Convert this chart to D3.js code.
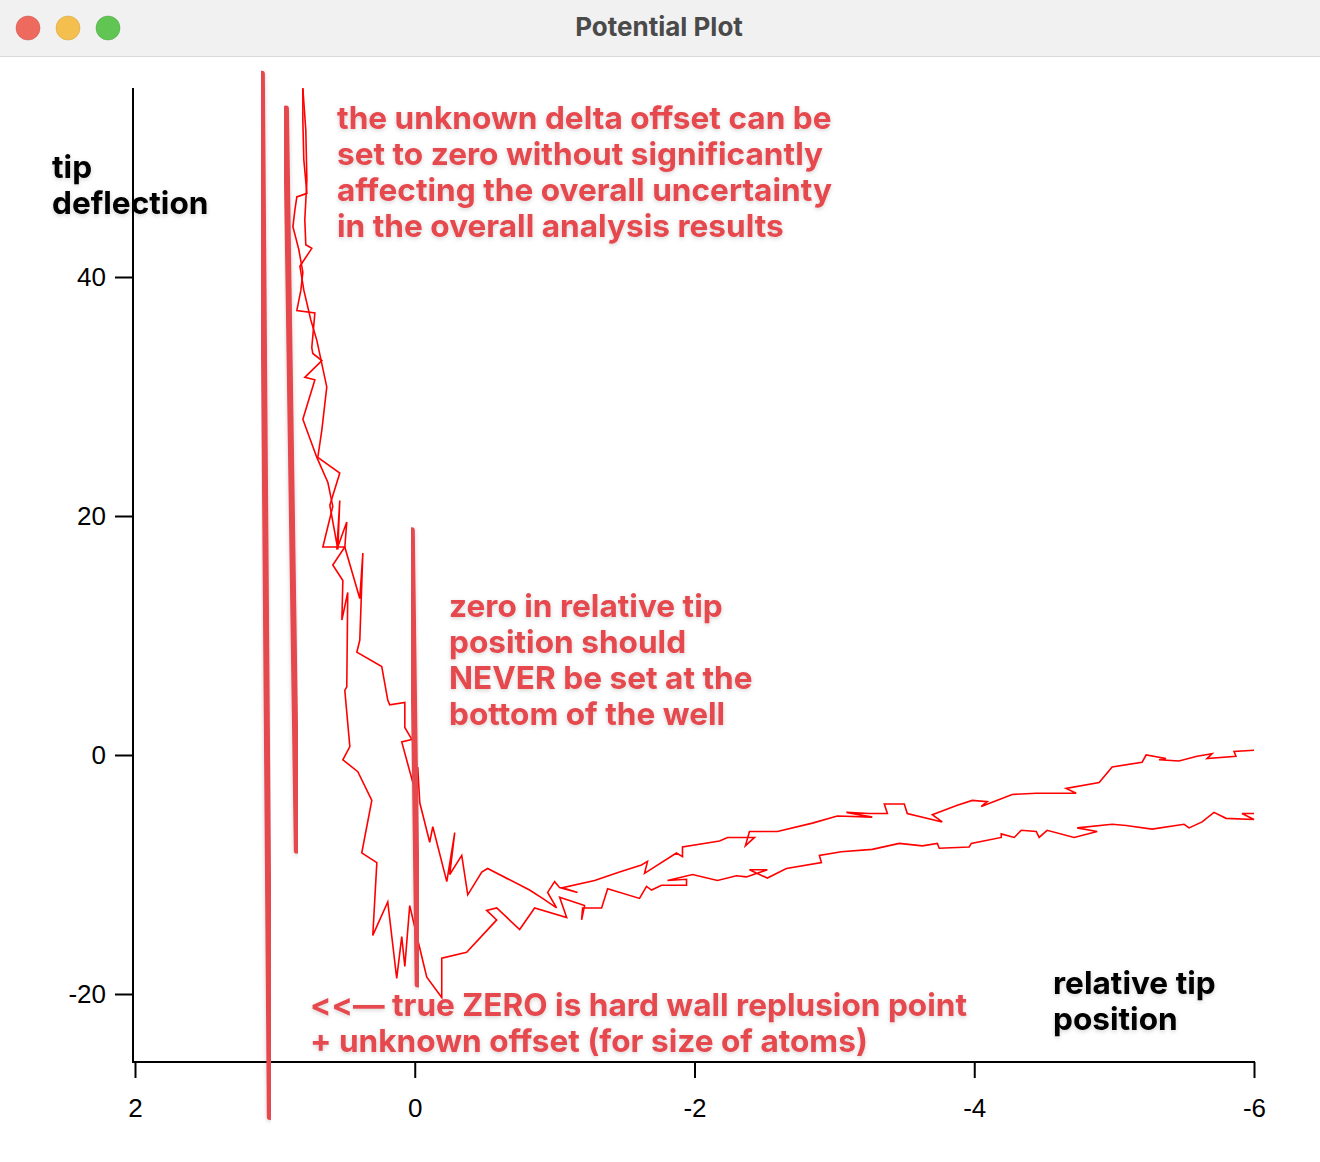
<!DOCTYPE html>
<html>
<head>
<meta charset="utf-8">
<title>Potential Plot</title>
<script src="https://cdn.jsdelivr.net/npm/d3@7"></script>
<style>
  html, body { margin: 0; padding: 0; background: #ffffff; }
  svg { display: block; }
  text { font-variant-ligatures: none; font-feature-settings: "calt" 0, "liga" 0; }
</style>
</head>
<body>
<script>
// tick labels
var xTicks = [2, 0, -2, -4, -6];
var yTicks = [-20, 0, 20, 40];

// trace that runs down the left side of the well and ends low on the right
var leftX = [0.80, 0.80, 0.793, 0.771, 0.843, 0.857, 0.871, 0.829, 0.80, 0.814, 0.843, 0.714, 0.736, 0.729, 0.664, 0.786, 0.714, 0.80, 0.70, 0.621,
  0.586, 0.657, 0.50, 0.586, 0.514, 0.521, 0.479, 0.486, 0.50, 0.464, 0.514, 0.407, 0.307, 0.379, 0.271, 0.30, 0.193, 0.129, 0.093, 0.071,
  0.036, 0, -0.057, -0.086, -0.193, -0.193, -0.371, -0.586, -0.514, -0.586, -0.75, -0.857, -1.086, -1.036, -1.214, -1.193, -1.20, -1.336, -1.379, -1.607,
  -1.657, -1.693, -1.764, -1.943, -1.943, -1.807, -1.986, -2.164, -2.30, -2.371, -2.521, -2.393, -2.521, -2.657, -2.907, -2.893, -3.05, -3.271, -3.464, -3.629,
  -3.736, -3.75, -3.964, -3.979, -4.193, -4.193, -4.286, -4.336, -4.443, -4.464, -4.521, -4.714, -4.879, -4.736, -4.986, -5.086, -5.271, -5.50, -5.536, -5.629,
  -5.714, -5.80, -6.0, -5.914, -6.0];
var leftY = [55.8, 53.1, 49.8, 47.0, 46.7, 45.6, 44.2, 42.3, 40.4, 38.9, 37.2, 37.0, 34.1, 33.6, 33.0, 31.6, 31.4, 28.1, 24.9, 22.8,
  20.8, 17.4, 17.4, 15.9, 14.6, 11.3, 13.6, 5.7, 5.4, 0.7, -0.4, -1.4, -3.8, -8.2, -9.0, -15.1, -12.3, -18.7, -15.2, -17.7,
  -12.6, -14.4, -17.2, -18.6, -20.3, -17.0, -16.5, -13.8, -13.0, -12.8, -14.6, -12.8, -13.6, -11.9, -12.6, -13.8, -12.8, -12.8, -11.2, -12.0,
  -11.0, -11.3, -10.9, -10.9, -10.4, -10.5, -10.0, -10.5, -10.1, -10.2, -9.6, -9.6, -10.3, -9.5, -9.0, -8.4, -8.1, -7.9, -7.4, -7.6,
  -7.4, -7.8, -7.7, -7.4, -6.9, -6.6, -6.9, -6.3, -6.4, -6.9, -6.3, -6.9, -6.4, -6.1, -5.8, -5.9, -6.2, -5.8, -6.1, -5.6,
  -4.8, -5.3, -5.4, -4.9, -4.9];

// trace that crosses zero near the wall and ends high on the right
var rightX = [0.80, 0.779, 0.771, 0.786, 0.779, 0.736, 0.821, 0.793, 0.743, 0.70, 0.629, 0.664, 0.693, 0.536, 0.607, 0.55, 0.536, 0.557, 0.486, 0.50,
  0.393, 0.371, 0.393, 0.414, 0.236, 0.193, 0.179, 0.071, 0.071, 0.021, 0.093, 0.014, -0.021, -0.036, -0.107, -0.129, -0.229, -0.286, -0.25, -0.336,
  -0.379, -0.479, -0.521, -0.821, -0.914, -1.014, -0.95, -1.0, -1.036, -1.164, -1.057, -1.286, -1.464, -1.621, -1.664, -1.643, -1.871, -1.914, -1.914, -2.179,
  -2.236, -2.429, -2.364, -2.393, -2.593, -2.843, -3.021, -3.271, -3.086, -3.25, -3.379, -3.357, -3.50, -3.521, -3.771, -3.70, -3.879, -3.986, -4.093, -4.05,
  -4.271, -4.443, -4.729, -4.657, -4.893, -4.986, -5.20, -5.229, -5.371, -5.321, -5.464, -5.593, -5.70, -5.664, -5.871, -5.857, -6.0];
var rightY = [55.8, 52.3, 48.1, 44.8, 42.7, 42.4, 40.9, 38.9, 36.4, 34.7, 30.8, 27.2, 24.9, 23.6, 20.9, 17.2, 21.3, 17.2, 19.5, 17.4,
  13.1, 16.9, 9.6, 8.6, 7.4, 4.6, 4.2, 4.4, 2.3, 1.3, 1.1, -2.3, -1.0, -4.0, -7.3, -6.0, -10.6, -6.5, -10.0, -8.4,
  -11.7, -9.8, -9.5, -11.3, -12.0, -12.8, -11.5, -10.6, -11.1, -11.5, -11.1, -10.5, -9.8, -9.2, -8.9, -9.9, -8.2, -8.5, -7.7, -7.2,
  -6.9, -6.9, -7.6, -6.4, -6.4, -5.7, -5.1, -5.2, -4.8, -4.9, -4.9, -4.1, -4.1, -4.9, -5.6, -5.0, -4.2, -3.8, -3.9, -4.3,
  -3.3, -3.2, -3.2, -2.8, -2.3, -1.0, -0.6, 0, -0.3, -0.4, -0.5, -0.1, 0.1, -0.3, -0.1, 0.3, 0.4];

// hand drawn marker strokes, in data units (x1, y1, x2, y2)
var markX1 = [1.093, 0.921, 0.021];
var markY1 = [57.0, 54.1, 18.8];
var markX2 = [1.036, 0.843, -0.021];
var markY2 = [-30.3, -8.0, -19.2];

var noteTop = ["the unknown delta offset can be", "set to zero without significantly",
  "affecting the overall uncertainty", "in the overall analysis results"];
var noteMid = ["zero in relative tip", "position should", "NEVER be set at the", "bottom of the well"];
var noteLow = ["<<\u2014 true ZERO is hard wall replusion point", "+ unknown offset (for size of atoms)"];
var yTitle = ["tip", "deflection"];
var xTitle = ["relative tip", "position"];

var W = 1320, H = 1162;
var red = "#e6484e";
var lineFont = "Inter, 'Noto Sans', sans-serif";

var svg = d3.select("body").append("svg")
  .attr("width", W)
  .attr("height", H);

var defs = svg.append("defs");
var shadow = defs.append("filter")
  .attr("id", "soft")
  .attr("x", "-10%").attr("y", "-30%")
  .attr("width", "120%").attr("height", "160%");
shadow.append("feDropShadow")
  .attr("dx", 0).attr("dy", 1.5)
  .attr("stdDeviation", 2)
  .attr("flood-color", "#000")
  .attr("flood-opacity", 0.18);

// window chrome
svg.append("rect").attr("width", W).attr("height", H).attr("fill", "#ffffff");
svg.append("rect").attr("width", W).attr("height", 56).attr("fill", "#f1f1f1");
svg.append("line")
  .attr("x1", 0).attr("x2", W).attr("y1", 56.5).attr("y2", 56.5)
  .attr("stroke", "#d9d9d9").attr("stroke-width", 1);
svg.selectAll("circle.light")
  .data(["#ee6a5f", "#f5bf4f", "#61c554"])
  .enter().append("circle")
  .attr("class", "light")
  .attr("cx", function(d, i) { return 28 + i * 40; })
  .attr("cy", 28)
  .attr("r", 12)
  .attr("fill", function(d) { return d; })
  .attr("stroke", function(d) { return d3.color(d).darker(0.4); })
  .attr("stroke-width", 0.6);
svg.append("text")
  .attr("x", 659).attr("y", 36)
  .attr("text-anchor", "middle")
  .style("font-family", lineFont)
  .style("font-weight", 700)
  .style("font-size", "26px")
  .attr("fill", "#4a4a4a")
  .text("Potential Plot");

// scales
var x = d3.scaleLinear().domain([2, -6]).range([135, 1254]);
var y = d3.scaleLinear().domain([-20, 40]).range([994, 277]);
var axisLeftX = 133, axisBottomY = 1062, axisTopY = 88;

var fmt = function(d) { return String(d); };
var xAxis = d3.axisBottom(x).tickValues(xTicks).tickSize(16).tickFormat(fmt);
var yAxis = d3.axisLeft(y).tickValues(yTicks).tickSize(18).tickPadding(9).tickFormat(fmt);

var gx = svg.append("g")
  .attr("transform", "translate(0," + axisBottomY + ")")
  .call(xAxis);
gx.select(".domain").remove();
gx.append("line")
  .attr("x1", axisLeftX - 1).attr("x2", x(-6) + 1)
  .attr("stroke", "#000").attr("stroke-width", 2);

var gy = svg.append("g")
  .attr("transform", "translate(" + axisLeftX + ",0)")
  .call(yAxis);
gy.select(".domain").remove();
gy.append("line")
  .attr("y1", axisTopY).attr("y2", axisBottomY + 1)
  .attr("stroke", "#000").attr("stroke-width", 2);

svg.selectAll(".tick line").attr("stroke", "#000").attr("stroke-width", 2);
svg.selectAll(".tick text")
  .attr("fill", "#000")
  .style("font-family", "'Liberation Sans', Arial, sans-serif")
  .style("font-size", "26px");
gx.selectAll(".tick text").attr("y", 55).attr("dy", 0);

// data traces
var line = d3.line()
  .x(function(d) { return x(d[0]); })
  .y(function(d) { return y(d[1]); });

var traces = [d3.zip(leftX, leftY), d3.zip(rightX, rightY)];
svg.selectAll("path.trace")
  .data(traces)
  .enter().append("path")
  .attr("class", "trace")
  .attr("d", line)
  .attr("fill", "none")
  .attr("stroke", "#ff0000")
  .attr("stroke-width", 1.6)
  .attr("stroke-linejoin", "miter");

// marker strokes
svg.selectAll("line.mark")
  .data(d3.range(markX1.length))
  .enter().append("line")
  .attr("class", "mark")
  .attr("x1", function(i) { return x(markX1[i]); })
  .attr("y1", function(i) { return y(markY1[i]); })
  .attr("x2", function(i) { return x(markX2[i]); })
  .attr("y2", function(i) { return y(markY2[i]); })
  .attr("stroke", red)
  .attr("stroke-width", 6)
  .attr("stroke-linecap", "round")
  .attr("filter", "url(#soft)");

// text blocks
function block(lines, left, firstBase, color) {
  svg.append("g").attr("filter", "url(#soft)")
    .selectAll("text")
    .data(lines)
    .enter().append("text")
    .attr("x", left)
    .attr("y", function(d, i) { return firstBase + i * 36; })
    .attr("fill", color)
    .style("font-family", lineFont)
    .style("font-weight", 700)
    .style("font-size", "31.6px")
    .text(function(d) { return d; });
}

block(noteTop, 337, 129, red);
block(noteMid, 449, 617, red);
block(noteLow, 310, 1016, red);
block(yTitle, 52, 178, "#000");
block(xTitle, 1053, 994, "#000");
</script>
</body>
</html>
